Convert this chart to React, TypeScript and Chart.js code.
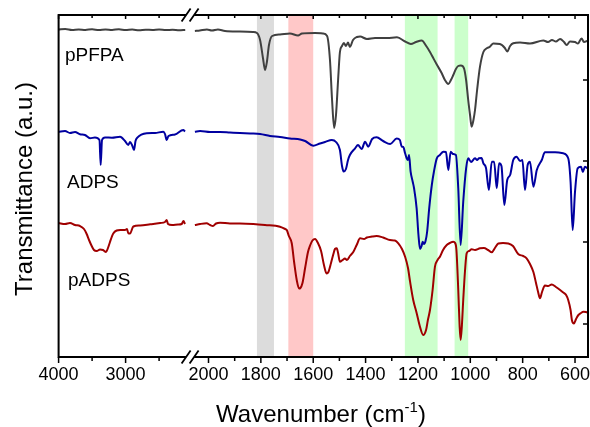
import React, { useEffect, useRef } from "react";
import { Chart, registerables } from "chart.js";

Chart.register(...registerables);

// ---------- data (wavenumber in cm-1, transmittance in arbitrary offset units) ----------
const pPFPA_wn = [4000, 3900, 3800, 3700, 3600, 3500, 3400, 3300, 3200, 3100, 3000, 2900, 2800, 2700, 2600, 2500, 2400, 2300, 2200, 2110,
  2052, 2033, 2006, 1987, 1964, 1937, 1880, 1830, 1815, 1803, 1792, 1784, 1777, 1769, 1757, 1727, 1689, 1658, 1643, 1593,
  1563, 1547, 1536, 1528, 1520, 1513, 1505, 1498, 1490, 1483, 1475, 1467, 1460, 1448, 1433, 1421, 1395, 1364, 1318, 1280,
  1249, 1227, 1207, 1186, 1167, 1154, 1141, 1127, 1109, 1097, 1084, 1074, 1065, 1055, 1046, 1036, 1024, 1016, 1008, 1001,
  995, 988, 982, 974, 963, 950, 937, 925, 912, 887, 868, 859, 848, 836, 810, 772, 721, 703, 688, 673,
  657, 642, 632, 619, 600, 589, 575, 566, 550];
const pPFPA_T = [327.5, 328, 327, 327.6, 327.1, 327.7, 326.9, 327.5, 327.1, 327.8, 326.9, 327.4, 326.8, 327.3, 327, 327.5, 326.9, 327.2, 326.7, 327,
  326, 326.5, 327.5, 326.5, 327.5, 326, 325.5, 325, 324, 317, 299, 287, 295, 312, 321, 322.5, 323.5, 321.5, 323.5, 324,
  323.5, 321, 297, 257, 229, 242, 277, 305, 311, 314, 311, 314.5, 310, 317, 320, 320.5, 318, 319, 319, 319.7,
  315.5, 313, 315, 316.5, 310.5, 305, 298.7, 292, 283.7, 277, 273, 277, 282, 288, 291, 291.5, 288.7, 277, 257, 242,
  230.3, 237, 247, 267, 290.3, 305, 308.7, 310.3, 313.5, 313, 309, 305.5, 311, 313.7, 314.5, 313.5, 316.5, 315, 317, 315.5,
  318, 315, 312, 315.5, 315, 313.5, 318.5, 315, 316.5];

const ADPS_wn = [4000, 3904, 3830, 3755, 3681, 3607, 3531, 3457, 3390, 3372, 3352, 3307, 3203, 3082, 3009, 2960, 2934, 2904, 2874, 2852,
  2825, 2685, 2561, 2437, 2412, 2387, 2360, 2263, 2139, 2113,
  2052, 2032, 1994, 1956, 1918, 1880, 1841, 1803, 1765, 1727, 1689, 1650, 1631, 1600, 1574, 1555, 1529, 1513, 1498, 1490,
  1484, 1475, 1467, 1460, 1440, 1429, 1415, 1402, 1390, 1375, 1358, 1333, 1306, 1281, 1269, 1262, 1256, 1249, 1243, 1238,
  1234, 1228, 1220, 1215, 1205, 1198, 1192, 1186, 1182, 1177, 1171, 1165, 1157, 1147, 1139, 1128, 1116, 1103, 1093, 1084,
  1075, 1066, 1055, 1046, 1037, 1027, 1016, 1008, 997, 982, 974, 967, 957, 950, 940, 929, 918, 909, 899, 890,
  881, 870, 859, 848, 836, 823, 810, 801, 791, 781, 772, 759, 746, 727, 715, 676, 645, 626, 617, 609,
  600, 590, 577, 570, 562, 550];
const ADPS_T = [225.3, 226, 224, 225, 222.7, 222, 218.7, 219.5, 217, 192, 217, 219.5, 219.3, 220.3, 216, 212, 215, 212, 207, 216,
  219.3, 223.7, 224, 225.3, 223, 217, 221, 222.5, 227, 225.5,
  225.3, 226, 225, 225, 224.5, 224, 223.5, 223, 221, 220, 218.5, 217.5, 216, 211.3, 213.5, 215, 217, 215, 207, 191,
  185.5, 188, 197, 202, 208.7, 212, 208, 215.3, 210.3, 218, 219.7, 216, 213, 218.5, 217, 210.3, 210, 203.7, 198.7, 197,
  202, 185.3, 175.3, 169, 148.7, 122, 108, 111, 115.3, 113, 116, 125, 148.7, 172, 185.3, 198.7, 202, 205.3, 205, 187,
  205.3, 203, 202, 168.7, 112, 155.3, 188.7, 198.7, 195, 198.7, 197, 198.7, 199, 193.7, 189, 167, 195.3, 195.3, 168.7, 193.7,
  191, 152, 177, 182, 197, 200.3, 196, 197, 167, 192, 195.3, 170.3, 187, 197, 204.7, 204.7, 203.7, 198.7, 175.3, 127,
  165.3, 188.7, 190.3, 185, 190.3, 188];

const pADPS_wn = [4000, 3904, 3830, 3755, 3681, 3621, 3581, 3546, 3506, 3472, 3431, 3382, 3337, 3292, 3263, 3233, 3207, 3184, 3133, 3082,
  3009, 2979, 2960, 2934, 2885, 2784, 2633, 2484, 2412, 2387, 2367, 2307, 2218, 2163, 2136, 2113,
  2052, 2032, 2007, 1994, 1983, 1971, 1956, 1918, 1880, 1829, 1784, 1727, 1707, 1701, 1693, 1682, 1673, 1663, 1654, 1649,
  1641, 1631, 1620, 1612, 1603, 1593, 1582, 1570, 1559, 1549, 1542, 1532, 1523, 1517, 1510, 1505, 1498, 1488, 1479, 1471,
  1460, 1447, 1434, 1421, 1406, 1395, 1375, 1358, 1333, 1307, 1288, 1275, 1261, 1249, 1238, 1230, 1218, 1205, 1192, 1180,
  1169, 1162, 1154, 1144, 1135, 1125, 1116, 1104, 1090, 1078, 1065, 1058, 1053, 1046, 1041, 1037, 1032, 1027, 1020, 1014,
  1005, 995, 982, 963, 948, 932, 918, 906, 893, 875, 855, 837, 817, 798, 785, 772, 759, 749, 741, 734,
  726, 715, 703, 689, 673, 657, 645, 634, 626, 617, 612, 604, 596, 587, 577, 568, 558, 550];
const pADPS_T = [134, 133, 134, 132, 131, 128, 123, 117, 111, 107, 106, 107.5, 107, 105, 109, 115, 120, 123.5, 126.5, 127,
  127, 128, 123.7, 123.5, 130.5, 131.5, 132.7, 134, 135, 137, 133, 132, 132.5, 133, 136, 133,
  132, 133, 133.7, 132, 131, 133.5, 134.3, 133.5, 133.5, 133, 132, 130.3, 128, 127, 121, 113.7, 95, 77, 68.5, 69,
  74, 89, 105, 111.5, 116.5, 118, 114, 106, 92, 83.5, 85, 94, 103, 108, 108.7, 104, 95.3, 97, 98.5, 97,
  101, 105, 112, 118.7, 118, 119.5, 120.5, 121, 119.5, 117, 116.5, 113.7, 108, 100.3, 89, 75.3, 57, 44, 30, 22,
  27, 37, 47, 67, 90.3, 97, 100.3, 107, 112, 114, 115.3, 114, 107, 67, 32, 17, 32, 57, 87, 103.7,
  106, 107.7, 107, 108.7, 109, 107, 104.7, 109, 113.5, 114, 113.5, 111, 103, 101, 98.7, 93, 85, 74, 65, 58.7,
  65, 71.5, 71, 72.5, 70, 67, 64.5, 62, 57, 47, 37, 33.5, 38, 42, 44, 45.3, 45, 44.3];

const SERIES_NAMES = ["pPFPA", "ADPS", "pADPS"];
const SERIES_COLORS = ["#404040", "#0000a0", "#a00000"];

const BAND_FROM = [1815, 1695, 1250, 1060];
const BAND_TO = [1750, 1600, 1125, 1008];
const BAND_COLORS = ["#dcdcdc", "#ffc8c8", "#ccffcc", "#ccffcc"];

const MAJOR_TICKS = [4000, 3000, 2000, 1800, 1600, 1400, 1200, 1000, 800, 600];
const MINOR_TICKS = [3500, 2500, 1900, 1700, 1500, 1300, 1100, 900, 700];
const RIGHT_TICKS = [33, 115, 196, 277];

// ---------- broken axis mapping ----------
const SPLIT_WN = 2080;
const X_MAX = 529.4;
const GAP_U = 131.5;
function toAxis(wn: number): number {
  return wn >= SPLIT_WN ? (4000 - wn) * 0.067 : 149.9 + (2000 - wn) * 0.2618;
}
function buildPoints(wn: number[], t: number[]) {
  const pts: { x: number; y: number | null }[] = [];
  for (let i = 0; i < wn.length; i++) {
    if (i > 0 && wn[i - 1] >= SPLIT_WN && wn[i] < SPLIT_WN) pts.push({ x: GAP_U, y: null });
    pts.push({ x: toAxis(wn[i]), y: t[i] });
  }
  return pts;
}

const FONT = "'Liberation Sans', Arial, Helvetica, sans-serif";

const decor = {
  id: "decor",
  beforeDatasetsDraw(chart: any) {
    const { ctx, chartArea: a } = chart;
    const xs = chart.scales.x;
    ctx.save();
    for (let i = 0; i < BAND_FROM.length; i++) {
      const x1 = xs.getPixelForValue(toAxis(BAND_FROM[i]));
      const x2 = xs.getPixelForValue(toAxis(BAND_TO[i]));
      ctx.fillStyle = BAND_COLORS[i];
      ctx.fillRect(x1, a.top, x2 - x1, a.bottom - a.top);
    }
    ctx.restore();
  },
  afterDatasetsDraw(chart: any) {
    const { ctx, chartArea: a } = chart;
    const xs = chart.scales.x;
    const ys = chart.scales.y;
    ctx.save();
    ctx.strokeStyle = "#000";
    ctx.lineWidth = 2;
    ctx.strokeRect(a.left, a.top, a.right - a.left, a.bottom - a.top);

    ctx.lineWidth = 1.5;
    ctx.beginPath();
    MAJOR_TICKS.forEach((w) => {
      const px = xs.getPixelForValue(toAxis(w));
      ctx.moveTo(px, a.bottom); ctx.lineTo(px, a.bottom + 6);
      ctx.moveTo(px, a.top); ctx.lineTo(px, a.top + 4);
    });
    MINOR_TICKS.forEach((w) => {
      const px = xs.getPixelForValue(toAxis(w));
      ctx.moveTo(px, a.bottom); ctx.lineTo(px, a.bottom + 4);
      ctx.moveTo(px, a.top); ctx.lineTo(px, a.top + 3);
    });
    RIGHT_TICKS.forEach((v) => {
      const py = ys.getPixelForValue(v);
      ctx.moveTo(a.right, py); ctx.lineTo(a.right - 5, py);
    });
    ctx.stroke();

    // axis break marks
    const cx = xs.getPixelForValue(GAP_U);
    [a.top, a.bottom].forEach((yy: number) => {
      ctx.fillStyle = "#fff";
      ctx.fillRect(cx - 4, yy - 1.5, 8, 3);
      ctx.strokeStyle = "#000";
      ctx.lineWidth = 1.8;
      ctx.beginPath();
      ctx.moveTo(cx - 8.5, yy + 6.5); ctx.lineTo(cx + 0.5, yy - 6.5);
      ctx.moveTo(cx - 0.5, yy + 6.5); ctx.lineTo(cx + 8.5, yy - 6.5);
      ctx.stroke();
    });

    // series labels
    ctx.fillStyle = "#000";
    ctx.textBaseline = "middle";
    ctx.textAlign = "left";
    ctx.font = `19px ${FONT}`;
    const lx = [65, 67, 68];
    const ly = [56, 183, 281];
    SERIES_NAMES.forEach((n, i) => ctx.fillText(n, lx[i], ly[i]));

    // y title
    ctx.save();
    ctx.translate(25, 189);
    ctx.rotate(-Math.PI / 2);
    ctx.textAlign = "center";
    ctx.font = `24px ${FONT}`;
    ctx.fillText("Transmittance (a.u.)", 0, 0);
    ctx.restore();

    // x title with superscript
    ctx.textBaseline = "alphabetic";
    const main = "Wavenumber (cm";
    const sup = "-1";
    const close = ")";
    ctx.font = `24px ${FONT}`;
    const w1 = ctx.measureText(main).width;
    const w3 = ctx.measureText(close).width;
    ctx.font = `15px ${FONT}`;
    const w2 = ctx.measureText(sup).width;
    const total = w1 + w2 + w3;
    let sx = 321 - total / 2;
    const by = 422;
    ctx.font = `24px ${FONT}`;
    ctx.fillText(main, sx, by);
    sx += w1;
    ctx.font = `15px ${FONT}`;
    ctx.fillText(sup, sx, by - 10);
    sx += w2;
    ctx.font = `24px ${FONT}`;
    ctx.fillText(close, sx, by);
    ctx.restore();
  },
};

export default function App() {
  const ref = useRef<HTMLCanvasElement | null>(null);
  useEffect(() => {
    if (!ref.current) return;
    const sets = [
      buildPoints(pPFPA_wn, pPFPA_T),
      buildPoints(ADPS_wn, ADPS_T),
      buildPoints(pADPS_wn, pADPS_T),
    ];
    const chart = new Chart(ref.current, {
      type: "line",
      data: {
        datasets: sets.map((d, i) => ({
          label: SERIES_NAMES[i],
          data: d,
          borderColor: SERIES_COLORS[i],
          borderWidth: 2,
          pointRadius: 0,
          fill: false,
          spanGaps: false,
          cubicInterpolationMode: "monotone",
        })),
      },
      options: {
        responsive: false,
        animation: false,
        devicePixelRatio: 1,
        parsing: false,
        normalized: true,
        layout: { padding: { left: 58.6, right: 2, top: 15, bottom: 0 } },
        plugins: { legend: { display: false }, tooltip: { enabled: false } },
        scales: {
          x: {
            type: "linear",
            min: 0,
            max: X_MAX,
            grid: { display: false, drawTicks: false },
            border: { display: false },
            afterBuildTicks: (s: any) => {
              s.ticks = MAJOR_TICKS.map((w) => ({ value: toAxis(w) }));
            },
            afterFit: (s: any) => {
              s.height = 70;
              s.paddingLeft = 0;
              s.paddingRight = 0;
            },
            ticks: {
              autoSkip: false,
              maxRotation: 0,
              minRotation: 0,
              padding: 7,
              color: "#000",
              font: { family: FONT, size: 18 },
              callback: (_v: any, i: number) => String(MAJOR_TICKS[i]),
            },
          },
          y: { display: false, min: 0, max: 342 },
        },
      },
      plugins: [decor],
    } as any);
    return () => chart.destroy();
  }, []);
  return (
    <div style={{ position: "absolute", left: 0, top: 0, width: 590, height: 427, background: "#fff" }}>
      <canvas ref={ref} width={590} height={427} style={{ display: "block" }} />
    </div>
  );
}
